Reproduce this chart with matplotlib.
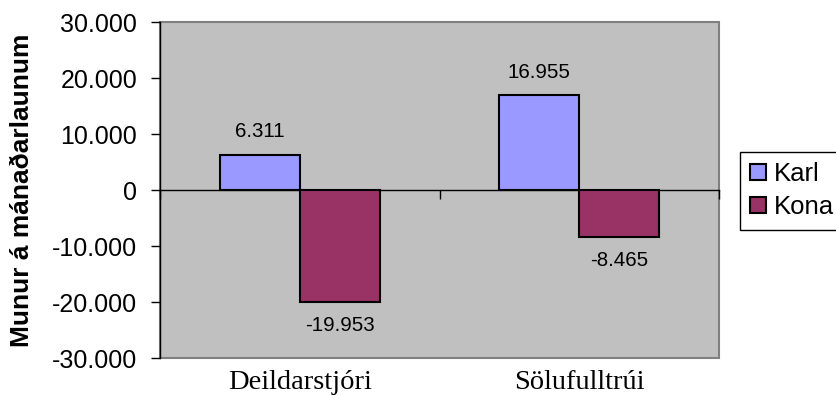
import matplotlib.pyplot as plt
import numpy as np
from matplotlib.ticker import FuncFormatter

categories = ['Deildarstjóri', 'Sölufulltrúi']
karl = [6311, 16955]
kona = [-19953, -8465]
series_names = ['Karl', 'Kona']
y_ticks = [-30000, -20000, -10000, 0, 10000, 20000, 30000]


def dot_thousands(v, pos=None):
    # Icelandic style: dot as thousands separator
    s = '{:,.0f}'.format(v).replace(',', '.')
    return s


fig = plt.figure(figsize=(8.36, 3.96), dpi=100)
ax = fig.add_axes([160 / 836, 1 - 358 / 396, 559 / 836, 336 / 396])

sans = 'Liberation Sans'
serif = 'Liberation Serif'

ax.set_facecolor('#C0C0C0')
ax.patch.set_edgecolor('#808080')
ax.patch.set_linewidth(1.5)

x = np.arange(len(categories))
width = 0.286
b1 = ax.bar(x - width / 2, karl, width, color='#9999FF', edgecolor='black',
            linewidth=1.5, label=series_names[0], zorder=3)
b2 = ax.bar(x + width / 2, kona, width, color='#993366', edgecolor='black',
            linewidth=1.5, label=series_names[1], zorder=3)

for bars, vals in ((b1, karl), (b2, kona)):
    for rect, v in zip(bars, vals):
        off = 9.5 if v >= 0 else -10
        ax.annotate(dot_thousands(v), (rect.get_x() + rect.get_width() / 2, v),
                    xytext=(0, off), textcoords='offset points', ha='center',
                    va='bottom' if v >= 0 else 'top', fontsize=14.8, family=sans)

ax.set_xlim(-0.5, len(categories) - 0.5)
ax.set_ylim(-30000, 30000)
ax.set_yticks(y_ticks)
ax.yaxis.set_major_formatter(FuncFormatter(dot_thousands))
ax.tick_params(axis='y', direction='out', length=6.5, width=1, labelsize=18, pad=10)
for lab in ax.get_yticklabels():
    lab.set_family(sans)

# category axis sits at zero with ticks at the category boundaries
ax.spines['bottom'].set_position(('data', 0))
ax.spines['bottom'].set_color('black')
ax.spines['bottom'].set_linewidth(1)
ax.set_xticks(np.arange(len(categories) + 1) - 0.5)
ax.set_xticklabels([])
ax.tick_params(axis='x', direction='out', length=6.5, width=1)
for i, name in enumerate(categories):
    ax.text(i, -0.035, name, transform=ax.get_xaxis_transform(), ha='center',
            va='top', fontsize=20.5, family=serif)

ax.spines['left'].set_color('black')
ax.spines['left'].set_linewidth(1)
ax.spines['top'].set_visible(False)
ax.spines['right'].set_visible(False)

fig.text(22 / 836, 1 - 190.5 / 396, 'Munur á mánaðarlaunum', rotation=90,
         ha='center', va='center', fontsize=19, fontweight='bold', family=sans)

leg = fig.legend(loc='upper left', bbox_to_anchor=(740 / 836, 1 - 152 / 396),
                 fancybox=False, edgecolor='black', framealpha=1,
                 prop={'family': sans, 'size': 18.5}, handlelength=0.6,
                 handleheight=0.6, handletextpad=0.3, borderpad=0.4,
                 labelspacing=0.35, borderaxespad=0)
leg.get_frame().set_linewidth(1)

fig.savefig('out.png', dpi=100)
